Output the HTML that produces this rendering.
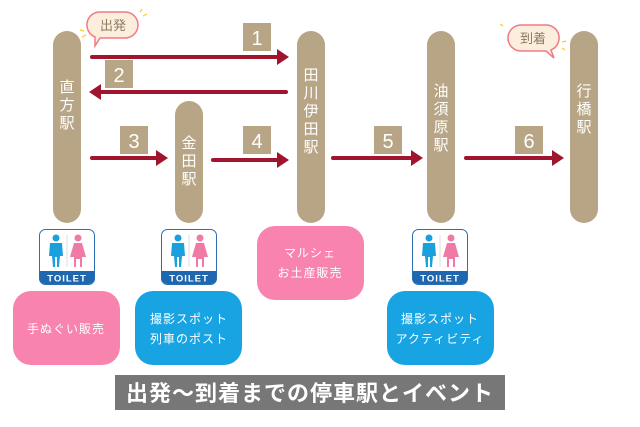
<!DOCTYPE html>
<html><head><meta charset="utf-8"><style>
body{margin:0;background:#fff;}
svg{display:block;font-family:"Liberation Sans","Noto Sans CJK JP",sans-serif;}
</style></head><body>
<svg width="640" height="427" viewBox="0 0 640 427">
<defs>
<marker id="ah" markerWidth="4" markerHeight="4" refX="1" refY="2" orient="auto" markerUnits="strokeWidth"><path d="M0,0 L3,2 L0,4 Z" fill="#a0152d"/></marker>
<g id="toilet">
<rect x="0.5" y="0.5" width="55" height="55" rx="6" fill="#fff" stroke="#2a6fb3"/>
<path d="M0.5,42 H55.5 V49 a6,6 0 0 1 -6,6 H6.5 a6,6 0 0 1 -6,-6 Z" fill="#1f68b0"/>
<text x="28" y="52.5" font-size="9.5" font-weight="bold" fill="#fff" text-anchor="middle" letter-spacing="1">TOILET</text>
<line x1="28" y1="6" x2="28" y2="38" stroke="#ddd"/>
<circle cx="17" cy="9" r="3.5" fill="#1aa0dd"/>
<path d="M11,14 H23 L24,27 H21 L20,38 H18 V28 H16 V38 H14 L13,27 H10 Z" fill="#1aa0dd"/>
<circle cx="39" cy="9" r="3.5" fill="#f07aa6"/>
<path d="M35,14 H43 L47,28 H43 V38 H41 V30 H37 V38 H35 V28 H31 Z" fill="#f07aa6"/>
</g>
</defs>
<g fill="#b8a586">
<rect x="53" y="31" width="28" height="192" rx="14"/>
<rect x="175" y="101" width="28" height="122" rx="14"/>
<rect x="297" y="31" width="28" height="192" rx="14"/>
<rect x="427" y="31" width="28" height="192" rx="14"/>
<rect x="570" y="31" width="28" height="192" rx="14"/>
</g>
<g fill="#fff" font-size="15" text-anchor="middle">
<text x="67" y="92">直</text><text x="67" y="110">方</text><text x="67" y="128">駅</text>
<text x="189" y="148">金</text><text x="189" y="166">田</text><text x="189" y="184">駅</text>
<text x="311" y="80">田</text><text x="311" y="98">川</text><text x="311" y="116">伊</text><text x="311" y="134">田</text><text x="311" y="152">駅</text>
<text x="441" y="96">油</text><text x="441" y="114">須</text><text x="441" y="132">原</text><text x="441" y="150">駅</text>
<text x="584" y="96">行</text><text x="584" y="114">橋</text><text x="584" y="132">駅</text>
</g>
<g stroke="#a0152d" stroke-width="4" stroke-linecap="round" marker-end="url(#ah)">
<line x1="92" y1="57" x2="281" y2="57"/>
<line x1="286" y1="92" x2="97" y2="92"/>
<line x1="92" y1="158" x2="160" y2="158"/>
<line x1="213" y1="160" x2="281" y2="160"/>
<line x1="333" y1="158" x2="415" y2="158"/>
<line x1="466" y1="158" x2="556" y2="158"/>
</g>
<g fill="#b8a586">
<rect x="243" y="23" width="28" height="28"/><rect x="105" y="60" width="28" height="28"/>
<rect x="120" y="126" width="28" height="28"/><rect x="243" y="126" width="28" height="28"/>
<rect x="374" y="126" width="28" height="28"/><rect x="515" y="126" width="28" height="28"/>
</g>
<g fill="#fff" font-size="20" text-anchor="middle">
<text x="257" y="45">1</text><text x="119" y="82">2</text><text x="134" y="148">3</text>
<text x="257" y="148">4</text><text x="388" y="148">5</text><text x="529" y="148">6</text>
</g>
<g>
<path d="M101,12 h24 a13,13 0 0 1 0,26 h-25 l-5,8 v-9 a13,13 0 0 1 6,-25 z" fill="#fbeedd" stroke="#f07a86" stroke-width="1.5"/>
<text x="113" y="30" font-size="13" fill="#8a7a60" text-anchor="middle">出発</text>
<path d="M521,25 h24 a13,13 0 0 1 6,25 l3,8 -8,-7 h-25 a13,13 0 0 1 0,-26 z" fill="#fbeedd" stroke="#f07a86" stroke-width="1.5"/>
<text x="533" y="43" font-size="13" fill="#8a7a60" text-anchor="middle">到着</text>
<g stroke="#f5d020" stroke-width="1.2"><line x1="80" y1="30" x2="84" y2="31"/><line x1="82" y1="37" x2="86" y2="35"/><line x1="140" y1="12" x2="142" y2="9"/><line x1="143" y1="16" x2="147" y2="14"/>
<line x1="500" y1="24" x2="503" y2="26"/><line x1="562" y1="42" x2="566" y2="41"/><line x1="562" y1="48" x2="565" y2="50"/></g>
</g>
<use href="#toilet" x="39" y="229"/>
<use href="#toilet" x="161" y="229"/>
<use href="#toilet" x="412" y="229"/>
<rect x="13" y="291" width="107" height="74" rx="18" fill="#f783ae"/>
<rect x="135" y="291" width="107" height="74" rx="18" fill="#18a4e3"/>
<rect x="257" y="226" width="107" height="74" rx="18" fill="#f783ae"/>
<rect x="387" y="291" width="107" height="74" rx="18" fill="#18a4e3"/>
<g fill="#fff" font-size="12" text-anchor="middle" letter-spacing="1">
<text x="66" y="333">手ぬぐい販売</text>
<text x="189" y="323">撮影スポット</text><text x="189" y="343">列車のポスト</text>
<text x="310" y="257">マルシェ</text><text x="310" y="277">お土産販売</text>
<text x="440" y="323">撮影スポット</text><text x="440" y="343">アクティビティ</text>
</g>
<rect x="115" y="375" width="390" height="35" fill="#777"/>
<text x="310" y="401" font-size="22" font-weight="bold" fill="#fff" text-anchor="middle" letter-spacing="1">出発～到着までの停車駅とイベント</text>
</svg>
</body></html>
